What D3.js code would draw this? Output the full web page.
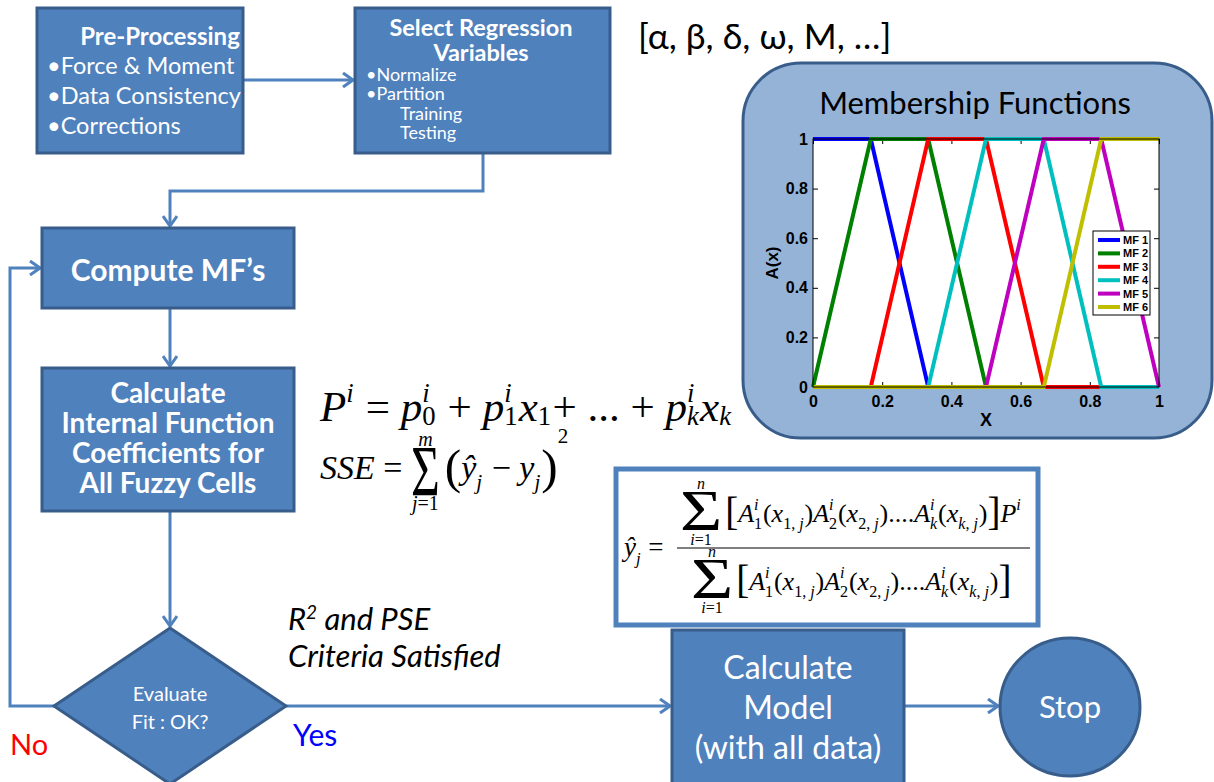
<!DOCTYPE html>
<html>
<head>
<meta charset="utf-8">
<script src="https://cdn.jsdelivr.net/npm/d3@7"></script>
<style>
  body { margin: 0; background: #fff; }
  svg { display: block; }
  text { white-space: pre; }
</style>
</head>
<body>
<div id="chart"></div>
<script>
const width = 1214;
const height = 782;

// membership functions, breakpoints
const mfNames = ["MF 1", "MF 2", "MF 3", "MF 4", "MF 5", "MF 6"];
const mfColors = ["#0000ff", "#008000", "#ff0000", "#00bfbf", "#bf00bf", "#bfbf00"];
const mf1 = [[0, 1], [0.167, 1], [0.333, 0], [1, 0]];
const mf2 = [[0, 0], [0.167, 1], [0.333, 1], [0.5, 0], [1, 0]];
const mf3 = [[0, 0], [0.167, 0], [0.333, 1], [0.5, 1], [0.667, 0], [1, 0]];
const mf4 = [[0, 0], [0.333, 0], [0.5, 1], [0.667, 1], [0.833, 0], [1, 0]];
const mf5 = [[0, 0], [0.5, 0], [0.667, 1], [0.833, 1], [1, 0]];
const mf6 = [[0, 0], [0.667, 0], [0.833, 1], [1, 1]];
const xTicks = [0, 0.2, 0.4, 0.6, 0.8, 1];
const yTicks = [0, 0.2, 0.4, 0.6, 0.8, 1];

// flowchart text
const preTitle = "Pre-Processing";
const preItems = ["•Force & Moment", "•Data Consistency", "•Corrections"];
const selTitle = ["Select Regression", "Variables"];
const selItems = ["•Normalize", "•Partition"];
const selSub = ["Training", "Testing"];
const computeText = "Compute MF’s";
const calcText = ["Calculate", "Internal Function", "Coefficients for", "All Fuzzy Cells"];
const evalText = ["Evaluate", "Fit : OK?"];
const modelText = ["Calculate", "Model", "(with all data)"];
const criteria = ["R", "2", " and PSE", "Criteria Satisfied"];
const varList = "[α, β, δ, ω, M, …]";

const blue = "#4f81bd";
const dark = "#385d8a";
const sans = "Lato, 'Open Sans', 'DejaVu Sans', sans-serif";
const serif = "'Liberation Serif', 'DejaVu Serif', serif";

const svg = d3.select("#chart")
    .append("svg")
    .attr("width", width)
    .attr("height", height)
    .attr("viewBox", [0, 0, width, height]);

svg.append("defs").append("marker")
    .attr("id", "arr")
    .attr("viewBox", "0 0 12 16")
    .attr("refX", 11).attr("refY", 8)
    .attr("markerWidth", 12).attr("markerHeight", 16)
    .attr("markerUnits", "userSpaceOnUse")
    .attr("orient", "auto")
  .append("path")
    .attr("d", "M1,1 L11,8 L1,15")
    .attr("fill", "none")
    .attr("stroke", blue)
    .attr("stroke-width", 3);

// connectors
const links = [
  "M243,80 H353",
  "M483,153 V191 H170 V226",
  "M170,308 V366",
  "M170,511 V626",
  "M54,706 H10 V268 H40",
  "M286,706 H670",
  "M903,706 H998"
];
svg.append("g").selectAll("path")
  .data(links)
  .join("path")
    .attr("d", d => d)
    .attr("fill", "none")
    .attr("stroke", blue)
    .attr("stroke-width", 3)
    .attr("marker-end", "url(#arr)");

function box(x, y, w, h) {
  return svg.append("rect")
      .attr("x", x).attr("y", y).attr("width", w).attr("height", h)
      .attr("fill", blue).attr("stroke", dark).attr("stroke-width", 3);
}

function lines(arr, x, y0, dy, size, opts = {}) {
  svg.append("g").selectAll("text")
    .data(arr)
    .join("text")
      .attr("x", x)
      .attr("y", (d, i) => y0 + i * dy)
      .attr("text-anchor", opts.anchor || "start")
      .attr("font-family", sans)
      .attr("font-size", size)
      .attr("font-weight", opts.weight || "normal")
      .attr("font-style", opts.style || "normal")
      .attr("fill", opts.fill || "#fff")
      .text(d => d);
}

box(37, 8, 206, 145);
lines([preTitle], 160, 45, 0, 24, {anchor: "middle", weight: "bold"});
lines(preItems, 47, 74, 30, 23.5);

box(355, 8, 255, 145);
lines(selTitle, 481, 36, 25, 23.5, {anchor: "middle", weight: "bold"});
lines(selItems, 366, 81, 19, 18);
lines(selSub, 400, 120, 19, 18);

box(42, 228, 252, 80);
lines([computeText], 168, 281, 0, 30, {anchor: "middle", weight: "bold"});

box(42, 368, 252, 143);
lines(calcText, 168, 403, 30, 28, {anchor: "middle", weight: "bold"});

svg.append("path")
    .attr("d", "M170,628 L286,706 L170,784 L54,706 Z")
    .attr("fill", blue).attr("stroke", dark).attr("stroke-width", 3);
lines(evalText, 170, 701, 28, 20, {anchor: "middle"});

box(672, 630, 232, 160);
lines(modelText, 788, 679, 40, 32, {anchor: "middle"});

svg.append("ellipse")
    .attr("cx", 1070).attr("cy", 707).attr("rx", 70).attr("ry", 69)
    .attr("fill", blue).attr("stroke", dark).attr("stroke-width", 3);
lines(["Stop"], 1070, 718, 0, 31, {anchor: "middle"});

lines(["No"], 10, 755, 0, 29, {fill: "#ff0000"});
lines(["Yes"], 293, 746, 0, 30, {fill: "#0000ff"});

const crit = svg.append("text")
    .attr("x", 288).attr("y", 630)
    .attr("font-family", sans).attr("font-size", 31)
    .attr("font-style", "italic").attr("fill", "#000");
crit.append("tspan").text(criteria[0]);
crit.append("tspan").attr("dy", -11).attr("font-size", 19).text(criteria[1]);
crit.append("tspan").attr("dy", 11).text(criteria[2]);
lines([criteria[3]], 288, 667, 0, 31, {style: "italic", fill: "#000"});

lines([varList], 638, 49, 0, 35.5, {fill: "#000"});

// fitted output formula box (drawn before the formula itself)
svg.append("rect")
    .attr("x", 616).attr("y", 469).attr("width", 422).attr("height", 156)
    .attr("fill", "#fff").attr("stroke", blue).attr("stroke-width", 5);

// ---- math ----
function rich(sel, str) {
  str.split(/([A-Za-zŷ]+)/).filter(s => s.length).forEach(s => {
    sel.append("tspan")
        .attr("font-style", /[A-Za-zŷ]/.test(s) ? "italic" : "normal")
        .text(s);
  });
}

function mathRow(g, x, y, size, parts, subY = 0.28) {
  let cx = x;
  const put = (str, px, py, fs, anchor) => {
    const t = g.append("text")
        .attr("x", px).attr("y", py)
        .attr("font-family", serif).attr("font-size", fs)
        .attr("text-anchor", anchor || "start");
    rich(t, str);
    return t.node().getComputedTextLength();
  };
  parts.forEach(p => {
    if (p.sum) {
      // big sigma with limits above and below
      const s = g.append("text")
          .attr("transform", `translate(${cx},${y + p.dy}) scale(${p.sx},${p.sy})`)
          .attr("font-family", serif).attr("font-size", p.fs)
          .text("Σ");
      const w = s.node().getComputedTextLength() * p.sx;
      put(p.top, cx + w / 2, y + p.topY, p.ls, "middle");
      put(p.bot, cx + w / 2, y + p.botY, p.ls, "middle");
      cx += w + (p.gap || 0);
    } else if (p.sup !== undefined || p.sub !== undefined) {
      cx += p.dx || 0;
      let w = 0;
      if (p.sup) w = Math.max(w, put(p.sup, cx, y - size * (p.up || 0.45), size * 0.62));
      if (p.sub) w = Math.max(w, put(p.sub, cx, y + size * subY, size * 0.62));
      cx += w + size * 0.03;
    } else {
      const k = p.k || 1;
      const w = put(p.t, cx, y + (p.dy || 0), size * k);
      cx += w;
    }
  });
  return cx;
}

const math = svg.append("g").attr("fill", "#000");

mathRow(math, 320, 421, 43, [
  {t: "P"}, {sup: "i"}, {t: " = "},
  {t: "p"}, {sup: "i", sub: "0"}, {t: " + "},
  {t: "p"}, {sup: "i", sub: "1"}, {t: "x"}, {sub: "1"}, {t: "+ ... + "},
  {t: "p"}, {sup: "i", sub: "k"}, {t: "x"}, {sub: "k"}
], 0.1);

mathRow(math, 320, 479, 34, [
  {t: "SSE"}, {t: " = "},
  {sum: true, top: "m", bot: "j=1", fs: 55, sx: 0.9, sy: 1.3, dy: 16, topY: -33, botY: 31, ls: 20, gap: 5},
  {t: "(", k: 1.45, dy: 4}, {t: "ŷ"}, {sub: "j"}, {t: " − "}, {t: "y"}, {sub: "j"},
  {t: ")", k: 1.45, dy: 4}, {sup: "2", up: 1.07}
]);

mathRow(math, 624, 556, 27, [{t: "ŷ"}, {sub: "j"}, {t: " = "}]);
math.append("line")
    .attr("x1", 677).attr("x2", 1030).attr("y1", 548).attr("y2", 548)
    .attr("stroke", "#000").attr("stroke-width", 1.2);

const bracket = (close) => [
  {sum: true, top: "n", bot: "i=1", fs: 50, sx: 1.45, sy: 1.15, dy: 8, topY: -33, botY: 23, ls: 16, gap: 3},
  {t: "[", k: 1.5, dy: 3},
  {t: "A"}, {sup: "i", sub: "1"}, {t: "(x"}, {sub: "1, j"}, {t: ")"},
  {t: "A"}, {sup: "i", sub: "2"}, {t: "(x"}, {sub: "2, j"}, {t: ")"},
  {t: "...."},
  {t: "A"}, {sup: "i", sub: "k"}, {t: "(x"}, {sub: "k, j"}, {t: ")"},
  {t: "]", k: 1.5, dy: 3}
].concat(close);

mathRow(math, 680, 522, 26, bracket([{t: "P"}, {sup: "i"}]));
mathRow(math, 691, 590, 26, bracket([]));

// ---- membership functions panel ----
svg.append("rect")
    .attr("x", 743).attr("y", 63).attr("width", 469).attr("height", 375)
    .attr("rx", 58)
    .attr("fill", "#95b3d7").attr("stroke", dark).attr("stroke-width", 3);
lines(["Membership Functions"], 975, 114, 0, 31, {anchor: "middle", fill: "#000"});

const x = d3.scaleLinear([0, 1], [813, 1159]);
const y = d3.scaleLinear([0, 1], [387, 139]);

const plot = svg.append("g");
plot.append("rect")
    .attr("x", x(0)).attr("y", y(1))
    .attr("width", x(1) - x(0)).attr("height", y(0) - y(1))
    .attr("fill", "#fff");

const fmt = d3.format("~g");
const axisStyle = g => {
  g.select(".domain").remove();
  g.selectAll(".tick line").attr("stroke", "#000");
  g.selectAll("text")
      .attr("font-family", "'Liberation Sans', Arial, sans-serif")
      .attr("font-weight", "bold")
      .attr("font-size", 16)
      .attr("fill", "#000");
};
plot.append("g")
    .attr("transform", `translate(${x(0)},0)`)
    .call(d3.axisLeft(y).tickValues(yTicks).tickFormat(fmt).tickSizeInner(-5).tickPadding(5))
    .call(axisStyle);
plot.append("g")
    .attr("transform", `translate(${x(1)},0)`)
    .call(d3.axisRight(y).tickValues(yTicks).tickFormat("").tickSizeInner(-5))
    .call(axisStyle);
plot.append("g")
    .attr("transform", `translate(0,${y(0)})`)
    .call(d3.axisBottom(x).tickValues(xTicks).tickFormat(fmt).tickSizeInner(-5).tickPadding(9))
    .call(axisStyle);
plot.append("g")
    .attr("transform", `translate(0,${y(1)})`)
    .call(d3.axisTop(x).tickValues(xTicks).tickFormat("").tickSizeInner(-5))
    .call(axisStyle);

const line = d3.line().x(d => x(d[0])).y(d => y(d[1]));
plot.append("g").selectAll("path")
  .data([mf1, mf2, mf3, mf4, mf5, mf6])
  .join("path")
    .attr("d", line)
    .attr("fill", "none")
    .attr("stroke", (d, i) => mfColors[i])
    .attr("stroke-width", 4);

plot.append("rect")
    .attr("x", x(0)).attr("y", y(1))
    .attr("width", x(1) - x(0)).attr("height", y(0) - y(1))
    .attr("fill", "none").attr("stroke", "#000").attr("stroke-width", 1);

plot.append("text")
    .attr("transform", `translate(778,${y(0.5)}) rotate(-90)`)
    .attr("text-anchor", "middle")
    .attr("font-family", "'Liberation Sans', Arial, sans-serif")
    .attr("font-weight", "bold").attr("font-size", 17)
    .text("A(x)");
plot.append("text")
    .attr("x", x(0.5)).attr("y", 426)
    .attr("text-anchor", "middle")
    .attr("font-family", "'Liberation Sans', Arial, sans-serif")
    .attr("font-weight", "bold").attr("font-size", 18)
    .text("X");

// legend
const legend = plot.append("g").attr("transform", "translate(1093,231)");
legend.append("rect")
    .attr("width", 57).attr("height", 84)
    .attr("fill", "#fff").attr("stroke", "#000").attr("stroke-width", 1);
const item = legend.selectAll("g.item")
  .data(mfNames)
  .join("g")
    .attr("class", "item")
    .attr("transform", (d, i) => `translate(0,${9 + i * 13.4})`);
item.append("line")
    .attr("x1", 5).attr("x2", 27)
    .attr("stroke", (d, i) => mfColors[i]).attr("stroke-width", 4);
item.append("text")
    .attr("x", 30).attr("y", 4)
    .attr("font-family", "'Liberation Sans', Arial, sans-serif")
    .attr("font-weight", "bold").attr("font-size", 11)
    .text(d => d);
</script>
</body>
</html>
